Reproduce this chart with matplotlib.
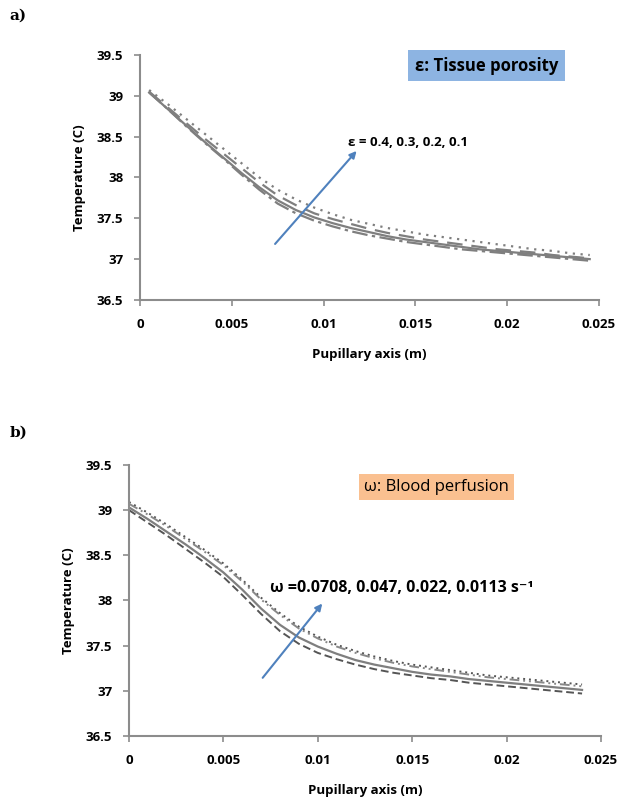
#!/usr/bin/env python3
# -*- coding: utf-8 -*-

#temperature along pupillary axis, two panels (porosity and perfusion)

import matplotlib
matplotlib.use('Agg')
import matplotlib.pyplot as plt

#panel a) x positions and the four porosity curves
xa = [0.0005, 0.0015, 0.0025, 0.0035, 0.0045, 0.0055, 0.0065, 0.0075, 0.0085,
      0.0095, 0.0105, 0.0115, 0.0125, 0.0135, 0.0145, 0.0155, 0.0165, 0.0175,
      0.0185, 0.0195, 0.0205, 0.0215, 0.0225, 0.0235, 0.0245]

eps_01 = [39.07, 38.90, 38.72, 38.54, 38.36, 38.18, 38.00, 37.85, 37.73, 37.63,
          37.55, 37.48, 37.43, 37.38, 37.34, 37.30, 37.27, 37.24, 37.21, 37.18,
          37.15, 37.12, 37.10, 37.07, 37.05]
eps_02 = [39.05, 38.86, 38.67, 38.48, 38.30, 38.12, 37.94, 37.78, 37.66, 37.56,
          37.49, 37.43, 37.37, 37.32, 37.28, 37.24, 37.21, 37.18, 37.15, 37.12,
          37.10, 37.08, 37.05, 37.03, 37.01]
eps_03 = [39.04, 38.84, 38.64, 38.44, 38.25, 38.06, 37.88, 37.72, 37.60, 37.51,
          37.44, 37.38, 37.33, 37.28, 37.24, 37.21, 37.18, 37.15, 37.12, 37.10,
          37.08, 37.06, 37.04, 37.02, 37.00]
eps_04 = [39.04, 38.84, 38.63, 38.43, 38.24, 38.04, 37.85, 37.68, 37.56, 37.47,
          37.40, 37.34, 37.29, 37.25, 37.21, 37.18, 37.15, 37.12, 37.10, 37.08,
          37.06, 37.04, 37.02, 37.00, 36.98]

#panel b) x positions and the four perfusion curves
xb = [0.000, 0.001, 0.002, 0.003, 0.004, 0.005, 0.006, 0.007, 0.008, 0.009,
      0.010, 0.011, 0.012, 0.013, 0.014, 0.015, 0.016, 0.017, 0.018, 0.019,
      0.020, 0.021, 0.022, 0.023, 0.024]

w_0113 = [39.09, 38.97, 38.84, 38.70, 38.56, 38.41, 38.23, 38.03, 37.86, 37.71,
          37.60, 37.51, 37.44, 37.38, 37.33, 37.29, 37.26, 37.23, 37.20, 37.17,
          37.15, 37.13, 37.11, 37.09, 37.07]
w_022 = [39.07, 38.95, 38.82, 38.68, 38.54, 38.39, 38.21, 38.01, 37.84, 37.69,
         37.58, 37.49, 37.42, 37.36, 37.31, 37.27, 37.24, 37.21, 37.18, 37.15,
         37.13, 37.11, 37.09, 37.07, 37.05]
w_047 = [39.03, 38.90, 38.76, 38.62, 38.47, 38.31, 38.12, 37.91, 37.73, 37.59,
         37.49, 37.41, 37.34, 37.29, 37.25, 37.21, 37.18, 37.16, 37.13, 37.11,
         37.09, 37.07, 37.05, 37.03, 37.01]
w_0708 = [39.00, 38.86, 38.72, 38.57, 38.42, 38.26, 38.06, 37.85, 37.66, 37.52,
          37.42, 37.35, 37.29, 37.24, 37.20, 37.17, 37.14, 37.12, 37.09, 37.07,
          37.05, 37.03, 37.01, 36.99, 36.97]

yticks = [36.5, 37, 37.5, 38, 38.5, 39, 39.5]
ytick_labels = ['36.5', '37', '37.5', '38', '38.5', '39', '39.5']
xticks = [0, 0.005, 0.01, 0.015, 0.02, 0.025]
xtick_labels = ['0', '0.005', '0.01', '0.015', '0.02', '0.025']

plt.rcParams['font.family'] = ['Open Sans', 'DejaVu Sans']

spine_col = '#8c8c8c'
arrow_col = '#4f81bd'


def style_axes(ax):
    #excel look: only left/bottom axis lines, grey, no grid
    for s in ['top', 'right']:
        ax.spines[s].set_visible(False)
    for s in ['left', 'bottom']:
        ax.spines[s].set_color(spine_col)
        ax.spines[s].set_linewidth(1.5)
    ax.set_xlim(0, 0.025)
    ax.set_ylim(36.5, 39.5)
    ax.set_xticks(xticks)
    ax.set_xticklabels(xtick_labels)
    ax.set_yticks(yticks)
    ax.set_yticklabels(ytick_labels)
    ax.tick_params(direction='out', length=4, width=1.2, color=spine_col,
                   labelsize=9.5)
    ax.tick_params(axis='y', pad=8)
    ax.tick_params(axis='x', pad=9)
    for lab in ax.get_xticklabels() + ax.get_yticklabels():
        lab.set_fontweight('bold')
    ax.set_xlabel('Pupillary axis (m)', fontsize=9.5, fontweight='bold', labelpad=12)
    ax.set_ylabel('Temperature (C)', fontsize=9.5, fontweight='bold', labelpad=8)


fig = plt.figure(figsize=(6.21, 8.02), dpi=100)

###################
### panel a)    ###
###################
ax1 = fig.add_axes([0.2254, 0.626, 0.739, 0.3055])
lc = '#7f7f7f'
ax1.plot(xa, eps_01, color=lc, lw=1.6, linestyle=(0, (1, 2.5)))
ax1.plot(xa, eps_02, color=lc, lw=1.6, linestyle=(0, (7, 4)))
ax1.plot(xa, eps_03, color=lc, lw=1.6, linestyle='-')
ax1.plot(xa, eps_04, color=lc, lw=1.6, linestyle=(0, (7, 2, 1.5, 2)))
style_axes(ax1)

ax1.annotate('', xy=(0.0119, 38.35), xytext=(0.00726, 37.16),
             arrowprops=dict(arrowstyle='-|>', color=arrow_col, lw=1.5,
                             mutation_scale=10))
ax1.text(0.01135, 38.43, 'ε = 0.4, 0.3, 0.2, 0.1', fontsize=9.5,
         fontweight='bold', va='center')
ax1.text(0.01889, 39.37, 'ε: Tissue porosity', fontsize=12, fontweight='bold',
         ha='center', va='center',
         bbox=dict(boxstyle='square,pad=0.4', fc='#8db4e2', ec='none'))

###################
### panel b)    ###
###################
ax2 = fig.add_axes([0.2077, 0.0823, 0.760, 0.338])
lc2 = '#555555'
ax2.plot(xb, w_0113, color=lc2, lw=1.4, linestyle=(0, (1, 2)))
ax2.plot(xb, w_022, color='#888888', lw=1.4, linestyle=(0, (5, 2, 1, 2, 1, 2)))
ax2.plot(xb, w_047, color='#7f7f7f', lw=1.6, linestyle='-')
ax2.plot(xb, w_0708, color=lc2, lw=1.4, linestyle=(0, (4, 2)))
style_axes(ax2)

ax2.annotate('', xy=(0.01033, 37.99), xytext=(0.00699, 37.12),
             arrowprops=dict(arrowstyle='-|>', color=arrow_col, lw=1.5,
                             mutation_scale=10))
ax2.text(0.00747, 38.14, 'ω =0.0708, 0.047, 0.022, 0.0113 s⁻¹',
         fontsize=11.5, fontweight='bold', va='center')
ax2.text(0.01631, 39.26, 'ω: Blood perfusion', fontsize=12,
         ha='center', va='center',
         bbox=dict(boxstyle='square,pad=0.3', fc='#fac090', ec='none'))

#panel letters
fig.text(0.015, 0.975, 'a)', fontsize=11, fontweight='bold', family='serif')
fig.text(0.015, 0.455, 'b)', fontsize=11, fontweight='bold', family='serif')

fig.savefig('out.png', dpi=100)
